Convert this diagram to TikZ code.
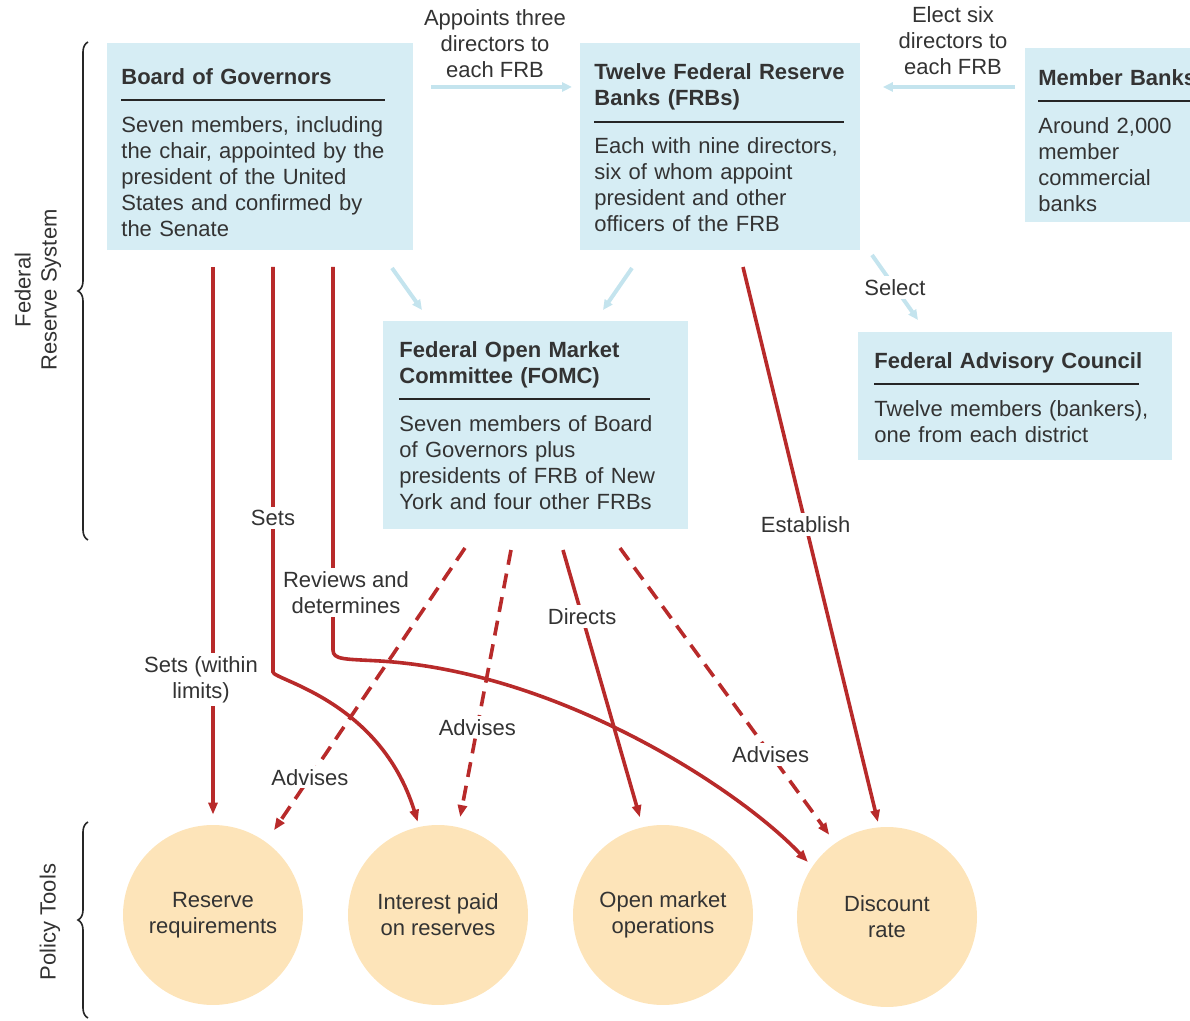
\documentclass[tikz,border=0pt]{standalone}
\usepackage{fontspec}
\setmainfont{Liberation Sans}
\usetikzlibrary{positioning,arrows.meta,decorations.pathreplacing}
\definecolor{fedblue}{HTML}{D6EDF4}
\definecolor{fedarrow}{HTML}{C4E4EE}
\definecolor{fedred}{HTML}{B82A2A}
\definecolor{toolfill}{HTML}{FDE4B9}
\definecolor{fedtext}{HTML}{333333}
\newcommand{\boxrule}[1]{\\\textcolor{black!85}{\rule[4.5pt]{#1}{1pt}}\\[-2pt]}

\begin{document}
\begin{tikzpicture}[
  x=0.5pt, y=-0.5pt,
  font=\fontsize{11}{13}\selectfont, text=fedtext,
  box/.style={fill=fedblue, anchor=north west, align=left, inner xsep=8pt, inner ysep=0pt},
  tool/.style={circle, fill=toolfill, minimum size=90pt, align=center, inner sep=0pt},
  lbl/.style={fill=white, text=fedtext, align=center, inner sep=1.5pt},
  blarr/.style={-{Triangle[length=5pt,width=4.5pt]}, fedarrow, line width=2pt},
  rdarr/.style={-{Triangle[length=6pt,width=4.5pt]}, fedred, line width=1.8pt},
  rddash/.style={rdarr, dash pattern=on 7.5pt off 4.5pt},
  brc/.style={decorate, decoration={brace, amplitude=5pt}, line width=0.8pt, black!85}
]
\path[use as bounding box, clip] (0,0) rectangle (1190,1021);

% boxes of the system
\node[box, inner xsep=7pt, text width=139pt, text height=20.5pt, text depth=83pt] (bog) at (107,43)
  {\textbf{Board of Governors}\boxrule{132pt}Seven members, including\\the chair, appointed by the\\president of the United\\States and confirmed by\\the Senate};
\node[box, inner xsep=7pt, text width=126pt, text height=18.25pt, text depth=85.25pt] (frb) at (580,43)
  {\textbf{Twelve Federal Reserve}\\\textbf{Banks (FRBs)}\boxrule{125pt}Each with nine directors,\\six of whom appoint\\president and other\\officers of the FRB};
\node[box, inner xsep=6.5pt, text width=87pt, text height=18.5pt, text depth=68.5pt] (mbk) at (1025,48)
  {\textbf{Member Banks}\boxrule{90pt}Around 2,000\\member\\commercial\\banks};
\node[box, text width=136.5pt, text height=18pt, text depth=86pt] (fomc) at (383,321)
  {\textbf{Federal Open Market}\\\textbf{Committee (FOMC)}\boxrule{125.5pt}Seven members of Board\\of Governors plus\\presidents of FRB of New\\York and four other FRBs};
\node[box, text width=141pt, text height=18pt, text depth=46pt] (fac) at (858,332)
  {\textbf{Federal Advisory Council}\boxrule{132.5pt}Twelve members (bankers),\\one from each district};

% policy tools
\node[tool] (rr) at (213,915) {Reserve\\requirements};
\node[tool] (ipr) at (438,915) {Interest paid\\on reserves};
\node[tool] (omo) at (663,915) {Open market\\operations};
\node[tool] (dr) at (887,917) {Discount\\rate};

% side braces
\node[rotate=90, align=center] (frs) at (38,290) {Federal\\Reserve System};
\node[rotate=90] (ptl) at (50,922) {Policy Tools};
\draw[brc] (88,540) -- (88,42);
\draw[brc] (88,1018) -- (88,822);

% appointments
\coordinate (ay) at (0,87);
\node[align=center] (applbl) at (495,44) {Appoints three\\directors to\\each FRB};
\node[align=center] (elclbl) at (953,41) {Elect six\\directors to\\each FRB};
\draw[blarr, shorten <=8.5pt, shorten >=4pt] (bog.east |- ay) -- (frb.west |- ay);
\draw[blarr, shorten <=5pt, shorten >=11pt] (mbk.west |- ay) -- (frb.east |- ay);
\coordinate (bf1) at (392,268); \coordinate (bf2) at (422,310);
\coordinate (ff1) at (632,268); \coordinate (ff2) at (603,310);
\coordinate (fa1) at (872,255); \coordinate (fa2) at (918,320);
\draw[blarr] (bf1) -- (bf2);
\draw[blarr] (ff1) -- (ff2);
\draw[blarr] (fa1) -- node[lbl] {Select} (fa2);

% red connectors
\coordinate (bs1) at (213,267); \coordinate (bs2) at (273,267);
\coordinate (bs3) at (333,267); \coordinate (fs1) at (743,267);
\coordinate (fo1) at (465,548); \coordinate (fo2) at (511,550);
\coordinate (fo3) at (563,550); \coordinate (fo4) at (620,548);
\draw[rdarr, shorten >=5pt] (bs1) -- node[lbl, pos=0.74, xshift=-6pt] {Sets (within\\limits)} (rr.north);
\draw[rdarr, shorten >=2.5pt] (bs2) -- node[lbl, pos=0.62] {Sets} (273,672)
  .. controls (273,680) and (380,700) .. (ipr.102);
\draw[rdarr, shorten >=3pt] (bs3) -- node[lbl, pos=0.85, xshift=6.5pt] {Reviews and\\determines} (333,650)
  .. controls (333,660) and (345,659) .. (380,661)
  .. controls (560,672) and (740,790) .. (dr.146);
\draw[rdarr, shorten >=2.5pt] (fs1) -- node[lbl, pos=0.46] {Establish} (dr.95);
\draw[rdarr, shorten >=5pt] (fo3) -- node[lbl, pos=0.24] {Directs} (omo.103);
\draw[rddash, shorten >=7pt] (fo1) -- node[lbl, pos=0.78] {Advises} (rr.54);
\draw[rddash, shorten >=5pt] (fo2) -- node[lbl, pos=0.64] {Advises} (ipr.77);
\draw[rddash, shorten >=5pt] (fo4) -- node[lbl, pos=0.70] {Advises} (dr.125);
\end{tikzpicture}
\end{document}
